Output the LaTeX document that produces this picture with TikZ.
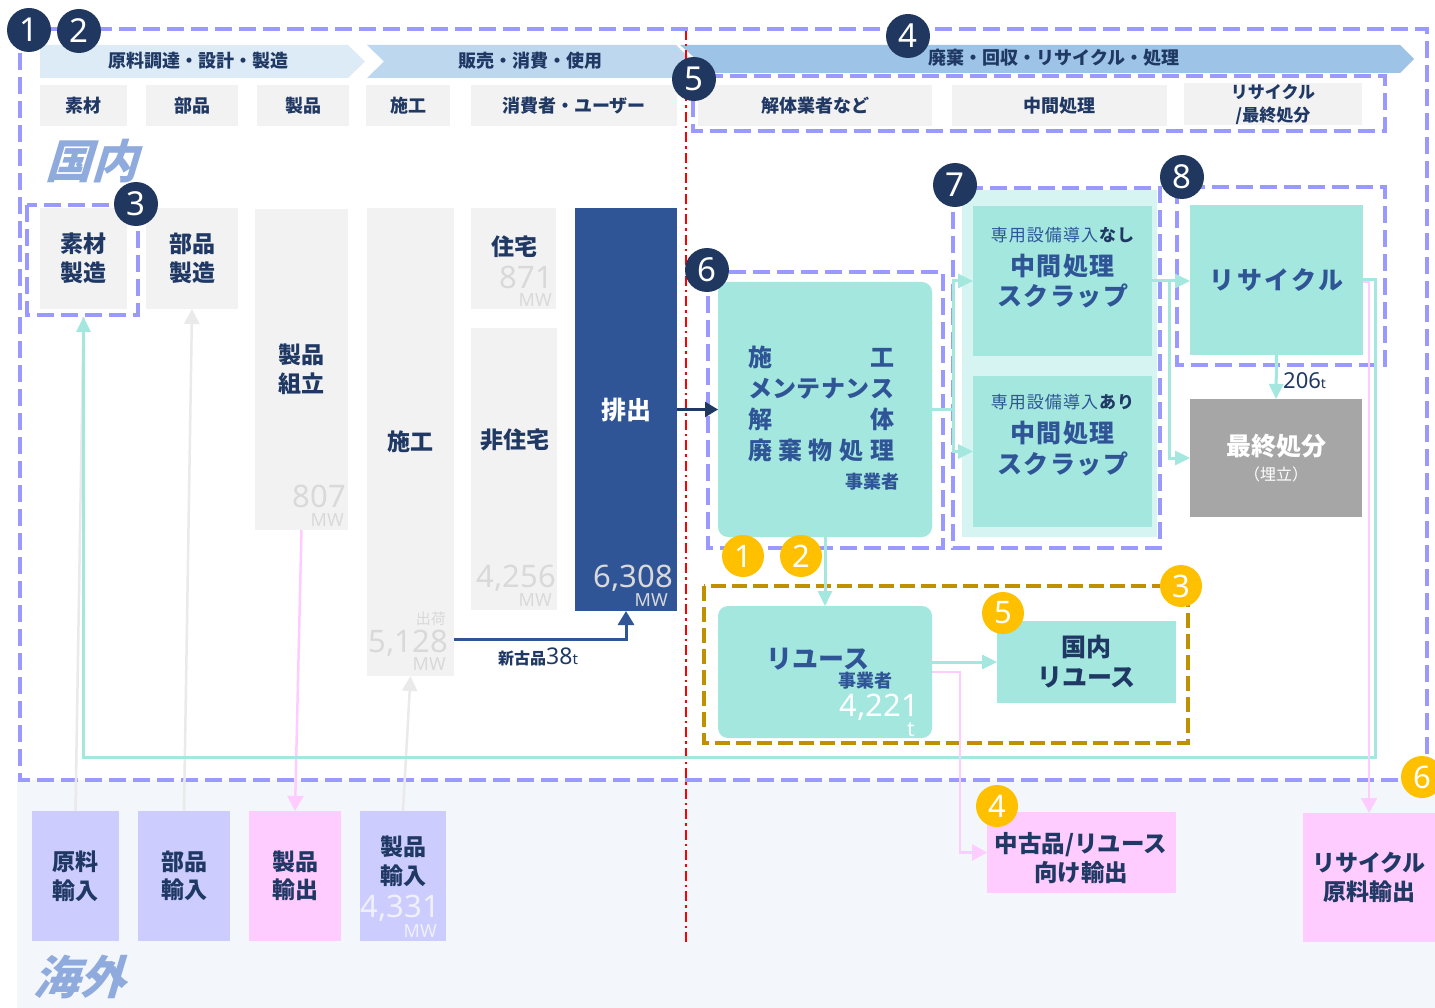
\documentclass[tikz,border=0pt]{standalone}
\usepackage{fontspec}
\setmainfont{Noto Sans CJK JP}
\newfontfamily\numf{Noto Sans}
\usetikzlibrary{arrows.meta,calc}

\definecolor{navy}{RGB}{31,56,100}
\definecolor{midblue}{RGB}{47,85,151}
\definecolor{badgenavy}{RGB}{32,56,96}
\definecolor{boxgray}{RGB}{242,242,242}
\definecolor{numgray}{RGB}{217,217,217}
\definecolor{lav}{RGB}{153,153,255}
\definecolor{lavbox}{RGB}{204,204,255}
\definecolor{pinkbox}{RGB}{255,204,255}
\definecolor{tealc}{RGB}{163,231,223}
\definecolor{tealbg}{RGB}{214,245,242}
\definecolor{gold}{RGB}{191,144,0}
\definecolor{yel}{RGB}{255,192,0}
\definecolor{arrA}{RGB}{221,235,247}
\definecolor{arrB}{RGB}{189,215,238}
\definecolor{arrC}{RGB}{157,195,230}
\definecolor{abroad}{RGB}{243,246,250}
\definecolor{regiontxt}{RGB}{143,170,220}
\definecolor{finalgray}{RGB}{166,166,166}
\definecolor{grayln}{RGB}{234,234,234}
\definecolor{pinkln}{RGB}{255,204,255}
\definecolor{lavnum}{RGB}{240,240,250}

\tikzset{
  rect/.style={anchor=north west, inner sep=0pt, outer sep=0pt, draw=none},
  lavdash/.style={draw=lav, line width=4pt, dash pattern=on 17pt off 7pt},
  golddash/.style={draw=gold, line width=4.5pt, dash pattern=on 15pt off 6pt},
  nbadge/.style={circle, fill=badgenavy, minimum size=44pt, inner sep=0pt, text=white, font=\numf\fontsize{33}{33}\selectfont},
  ybadge/.style={circle, fill=yel, minimum size=42pt, inner sep=0pt, text=white, font=\numf\fontsize{31}{31}\selectfont},
  hdrtxt/.style={text=navy, font=\bfseries\fontsize{18}{23}\selectfont, align=center, inner sep=0pt},
  lbl/.style={text=navy, font=\bfseries\fontsize{23}{28.5}\selectfont, align=center, inner sep=0pt},
  tlbl/.style={text=midblue, font=\bfseries\fontsize{25}{30}\selectfont\addfontfeatures{LetterSpace=6}, align=center, inner sep=0pt},
  numtxt/.style={font=\numf\fontsize{31}{31}\selectfont, inner sep=0pt, anchor=base east},
  unittxt/.style={font=\numf\fontsize{18}{18}\selectfont, inner sep=0pt, anchor=base east},
  tealline/.style={draw=tealc, line width=3pt},
  tealarrow/.style={draw=tealc, line width=3pt, -{Triangle[length=15pt,width=14pt]}},
  pinkarrow/.style={draw=pinkln, line width=2.5pt, -{Triangle[length=15pt,width=16pt]}},
  grayarrow/.style={draw=grayln, line width=2.5pt, -{Triangle[length=15pt,width=15pt]}},
  grayline/.style={draw=grayln, line width=2.5pt},
  navyarrow/.style={draw=navy, line width=2.5pt, -{Triangle[length=13pt,width=15pt]}},
  bluearrow/.style={draw=midblue, line width=3pt, -{Triangle[length=14pt,width=16pt]}},
}

\begin{document}
\begin{tikzpicture}[x=1pt,y=-1pt]
\clip (0,0) rectangle (1435,1008);
\fill[white] (0,0) rectangle (1435,1008);

% abroad background
\fill[abroad] (17,780) rectangle (1435,1008);

% header chevrons
\fill[arrA] (40,45) -- (348,45) -- (365,61.5) -- (348,78) -- (40,78) -- cycle;
\fill[arrB] (367,45) -- (676,45) -- (693,61.5) -- (676,78) -- (367,78) -- (384,61.5) -- cycle;
\fill[arrC] (680,45) -- (1400,45) -- (1414,59) -- (1400,73) -- (680,73) -- (696,59) -- cycle;
\node[hdrtxt] (t1) at (198,61) {原料調達・設計・製造};
\node[hdrtxt] (t2) at (530,61) {販売・消費・使用};
\node[hdrtxt] (t3) at (1054,58) {廃棄・回収・リサイクル・処理};

% header boxes
\node[rect, fill=boxgray, minimum width=87pt, minimum height=41pt, hdrtxt] (hA) at (40,85) {素材};
\node[rect, fill=boxgray, minimum width=92pt, minimum height=41pt, hdrtxt] (hB) at (146,85) {部品};
\node[rect, fill=boxgray, minimum width=92pt, minimum height=41pt, hdrtxt] (hC) at (257,85) {製品};
\node[rect, fill=boxgray, minimum width=84pt, minimum height=41pt, hdrtxt] (hD) at (366,85) {施工};
\node[rect, fill=boxgray, minimum width=206pt, minimum height=41pt, hdrtxt] (hE) at (471,85) {消費者・ユーザー};
\node[rect, fill=boxgray, minimum width=234pt, minimum height=41pt, hdrtxt] (hF) at (698,85) {解体業者など};
\node[rect, fill=boxgray, minimum width=215pt, minimum height=41pt, hdrtxt] (hG) at (952,85) {中間処理};
\node[rect, fill=boxgray, minimum width=178pt, minimum height=42pt, hdrtxt, font=\bfseries\fontsize{17}{23}\selectfont] (hH) at (1184,83) {リサイクル\\/最終処分};

% red divider
\draw[red, line width=2.6pt, dash pattern=on 10pt off 4pt on 2.5pt off 4pt] (686,30) -- (686,945);

% outer domestic border
\draw[lavdash] (20,29) rectangle (1427,780);

% region labels
\node[text=regiontxt, font=\bfseries\fontsize{46}{46}\selectfont, xslant=0.3, transform shape, inner sep=0pt] (kokunai) at (97,161) {国内};
\node[text=regiontxt, font=\bfseries\fontsize{46}{46}\selectfont, xslant=0.3, transform shape, inner sep=0pt] (kaigai) at (85,977) {海外};

% lower boxes (domestic)
\node[rect, fill=boxgray, minimum width=87pt, minimum height=101pt, lbl] (sozai) at (40,208) {素材\\製造};
\node[rect, fill=boxgray, minimum width=92pt, minimum height=101pt, lbl] (buhin) at (146,208) {部品\\製造};
\node[rect, fill=boxgray, minimum width=93pt, minimum height=321pt, lbl] (kumi) at (255,209) {製品\\組立};
\node[rect, fill=boxgray, minimum width=87pt, minimum height=468pt, lbl] (sekou) at (367,208) {施工};
\node[rect, fill=boxgray, minimum width=85pt, minimum height=101pt] (jutaku) at (471,208) {};
\node[rect, fill=boxgray, minimum width=86pt, minimum height=282pt] (hijutaku) at (471,328) {};
\node[rect, fill=midblue, minimum width=102pt, minimum height=403pt, text=white, font=\bfseries\fontsize{25}{25}\selectfont] (haishutsu) at (575,208) {排出};
\node[lbl] (jutakutxt) at (514,247) {住宅};
\node[lbl] (hijutakutxt) at (515,440) {非住宅};

% numbers
\node[numtxt, text=numgray] (n807) at (346,507) {807};
\node[unittxt, text=numgray] (u807) at (344,526) {MW};
\node[numtxt, text=numgray] (n871) at (553,289) {871};
\node[unittxt, text=numgray] (u871) at (552,307) {MW};
\node[numtxt, text=numgray] (n4256) at (556,587) {4,256};
\node[unittxt, text=numgray] (u4256) at (552,606) {MW};
\node[numtxt, text=numgray] (n6308) at (673,587) {6,308};
\node[unittxt, text=numgray] (u6308) at (668,606) {MW};
\node[anchor=base east, inner sep=0pt, text=numgray, font=\fontsize{15}{15}\selectfont] (shukka) at (446,624) {出荷};
\node[numtxt, text=numgray] (n5128) at (448,652) {5,128};
\node[unittxt, text=numgray] (u5128) at (446,670) {MW};

% dashed group boxes
\draw[lavdash] (27,205) rectangle (138,315);
\draw[lavdash] (693,76) rectangle (1385,131);
\draw[lavdash] (708,272) rectangle (943,548);
\fill[tealbg] (962,190) rectangle (1157,537);
\draw[lavdash] (953,188) rectangle (1160,548);
\draw[lavdash] (1177,187) rectangle (1385,365);

% demolition / processing box
\node[rect, fill=tealc, rounded corners=10pt, minimum width=214pt, minimum height=255pt] (meta) at (718,282) {};
\node[text=midblue, font=\bfseries\fontsize{24}{31}\selectfont, align=left, inner sep=0pt] (metatxt) at (821,403.5)
  {\makebox[146pt][s]{施\hfill 工}\\
   \makebox[146pt][s]{メ\hfill ン\hfill テ\hfill ナ\hfill ン\hfill ス}\\
   \makebox[146pt][s]{解\hfill 体}\\
   \makebox[146pt][s]{廃\hfill 棄\hfill 物\hfill 処\hfill 理}};
\node[anchor=east, text=midblue, font=\bfseries\fontsize{18}{18}\selectfont, inner sep=0pt] (metasub) at (900,482) {事業者};

% intermediate processing boxes
\node[rect, fill=tealc, minimum width=179pt, minimum height=150pt] (mid1) at (973,206) {};
\node[rect, fill=tealc, minimum width=179pt, minimum height=151pt] (mid2) at (973,376) {};
\node[text=midblue, font=\fontsize{17}{17}\selectfont\addfontfeatures{LetterSpace=6}, inner sep=0pt] (mid1a) at (1062.5,235) {専用設備導入\textbf{\color{navy}なし}};
\node[tlbl] (mid1b) at (1062.5,266) {中間処理};
\node[tlbl] (mid1c) at (1062.5,296) {スクラップ};
\node[text=midblue, font=\fontsize{17}{17}\selectfont\addfontfeatures{LetterSpace=6}, inner sep=0pt] (mid2a) at (1062.5,402) {専用設備導入\textbf{\color{navy}あり}};
\node[tlbl] (mid2b) at (1062.5,433) {中間処理};
\node[tlbl] (mid2c) at (1062.5,464) {スクラップ};

% recycle and final disposal
\node[rect, fill=tealc, minimum width=173pt, minimum height=150pt, tlbl, font=\bfseries\fontsize{25}{30}\selectfont\addfontfeatures{LetterSpace=10}] (recyc) at (1190,205) {リサイクル};
\node[rect, fill=finalgray, minimum width=172pt, minimum height=118pt] (final) at (1190,399) {};
\node[text=white, font=\bfseries\fontsize{25}{25}\selectfont, inner sep=0pt] (finala) at (1276,446) {最終処分};
\node[text=white, font=\fontsize{16}{16}\selectfont, inner sep=0pt] (finalb) at (1276,474) {（埋立）};
\node[anchor=base west, text=navy, inner sep=0pt] (w206) at (1283,388) {\numf\fontsize{22}{22}\selectfont 206\fontsize{14}{14}\selectfont t};

% reuse area
\draw[golddash] (704,586) rectangle (1188,743);
\node[rect, fill=tealc, rounded corners=10pt, minimum width=214pt, minimum height=132pt] (reuse) at (718,606) {};
\node[tlbl, font=\bfseries\fontsize{26}{26}\selectfont] (reusea) at (818,659) {リユース};
\node[text=midblue, font=\bfseries\fontsize{18}{18}\selectfont, inner sep=0pt] (reuseb) at (865,681) {事業者};
\node[numtxt, text=white] (n4221) at (919,716) {4,221};
\node[anchor=base east, text=white, font=\numf\fontsize{21}{21}\selectfont, inner sep=0pt] (u4221) at (915,736) {t};
\node[rect, fill=tealc, minimum width=179pt, minimum height=82pt, lbl, font=\bfseries\fontsize{25}{30}\selectfont] (domreuse) at (997,621) {国内\\リユース};

% abroad boxes
\node[rect, fill=lavbox, minimum width=87pt, minimum height=130pt, lbl] (genryo) at (32,811) {原料\\輸入};
\node[rect, fill=lavbox, minimum width=92pt, minimum height=130pt, lbl] (buhinyu) at (138,811) {部品\\輸入};
\node[rect, fill=pinkbox, minimum width=92pt, minimum height=130pt, lbl] (seihinexp) at (249,811) {製品\\輸出};
\node[rect, fill=lavbox, minimum width=86pt, minimum height=130pt] (seihinyu) at (360,811) {};
\node[lbl] (seihinyutxt) at (403,861.5) {製品\\輸入};
\node[numtxt, text=lavnum] (n4331) at (440,917) {4,331};
\node[unittxt, text=lavnum] (u4331) at (437,937) {MW};
\node[rect, fill=pinkbox, minimum width=189pt, minimum height=81pt] (usedexp) at (987,812) {};
\node[lbl, font=\bfseries\fontsize{23.5}{28.5}\selectfont] (usedexptxt) at (1081,858) {中古品/リユース\\向け輸出};
\node[rect, fill=pinkbox, minimum width=132pt, minimum height=129pt, lbl] (rexp) at (1303,813) {リサイクル\\原料輸出};

% new-old product label
\node[anchor=base west, text=navy, inner sep=0pt] (shinko) at (498,664) {\bfseries\fontsize{16}{16}\selectfont 新古品\numf\mdseries\fontsize{23}{23}\selectfont 38\fontsize{15}{15}\selectfont t};

% ---------- connectors ----------
\draw[grayline] (genryo.north) -- ([yshift=-8pt]sozai.south);
\draw[grayarrow] (buhinyu.north) -- (buhin.south);
\draw[grayarrow] (seihinyu.north) -- (sekou.south);
\draw[pinkarrow] (kumi.south) -- (seihinexp.north);

\coordinate (c1) at (1375,280);
\coordinate (c2) at (1375,757);
\draw[tealarrow] (recyc.east) -- (c1) -- (c2) -- (c2 -| sozai.south) -- ([yshift=-8pt]sozai.south);

\draw[navyarrow] (haishutsu.east) -- (meta.west);
\coordinate (c3) at (626,639);
\draw[bluearrow] (sekou.east |- c3) -- (c3) -- (haishutsu.south);

\coordinate (c4) at (953,409.5);
\draw[tealline] (meta.east) -- (c4);
\draw[tealarrow] (c4) |- (mid1.west);
\draw[tealarrow] (c4) |- (mid2.west);

\coordinate (c5) at (1169,281);
\draw[tealline] (mid1.east) -- (c5);
\draw[tealarrow] (c5) -- (c5 -| recyc.west);
\draw[tealarrow] (c5) |- (final.west);
\draw[tealarrow] (recyc.south) -- (final.north);

\draw[tealarrow] (meta.south) -- (reuse.north);
\draw[tealarrow] (reuse.east |- domreuse.west) -- (domreuse.west);
\coordinate (c6) at (960,672);
\draw[pinkarrow] (reuse.east) -- (c6) |- (usedexp.west);
\draw[pinkarrow] ([yshift=-2pt]recyc.east) -| (rexp.north);

% ---------- badges ----------
\node[nbadge] (b1) at (29,30) {1};
\node[nbadge] (b2) at (79,31) {2};
\node[nbadge] (b3) at (136,204) {3};
\node[nbadge] (b4) at (908,36) {4};
\node[nbadge] (b5) at (694,79) {5};
\node[nbadge] (b6) at (707,270) {6};
\node[nbadge] (b7) at (955,185) {7};
\node[nbadge] (b8) at (1182,177) {8};

\node[ybadge] (y1) at (743,556) {1};
\node[ybadge] (y2) at (801,556) {2};
\node[ybadge] (y3) at (1181,586) {3};
\node[ybadge] (y5) at (1003,613) {5};
\node[ybadge] (y4) at (997,806) {4};
\node[ybadge] (y6) at (1422,777) {6};
\end{tikzpicture}
\end{document}
